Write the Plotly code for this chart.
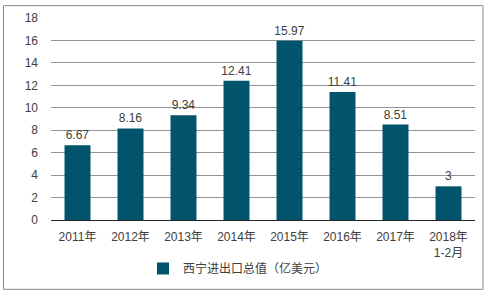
import plotly.graph_objects as go

categories = ["2011年", "2012年", "2013年", "2014年", "2015年", "2016年", "2017年", "2018年<br>1-2月"]
values = [6.67, 8.16, 9.34, 12.41, 15.97, 11.41, 8.51, 3]
labels = ["6.67", "8.16", "9.34", "12.41", "15.97", "11.41", "8.51", "3"]
series_name = "西宁进出口总值（亿美元）"

font_family = "Arial, Liberation Sans, Noto Sans CJK SC, sans-serif"

fig = go.Figure()
fig.add_trace(go.Bar(
    x=categories, y=values, name=series_name,
    marker=dict(color="#02536C", line=dict(width=0)),
    width=0.49,
    text=labels, textposition="outside", cliponaxis=False, constraintext="none",
    textfont=dict(size=12, color="#404040", family=font_family),
))

fig.update_layout(
    width=486, height=294,
    margin=dict(l=51, r=11, t=16, b=74),
    paper_bgcolor="white", plot_bgcolor="white",
    font=dict(family=font_family, size=12, color="#404040"),
    showlegend=True,
    legend=dict(orientation="h", x=(143 - 51) / 424, xanchor="left", y=-0.24, yanchor="middle",
                font=dict(size=12, color="#404040"), itemwidth=30),
    xaxis=dict(showgrid=False, ticks="", showline=True, linecolor="#262626", linewidth=1,
               tickfont=dict(size=12, color="#404040"), ticklabelstandoff=6),
    yaxis=dict(range=[0, 18], dtick=2, showgrid=True, gridcolor="#959595", gridwidth=1,
               zeroline=True, zerolinecolor="#262626", zerolinewidth=1,
               ticks="", tickfont=dict(size=12, color="#404040"), ticklabelstandoff=12),
    shapes=[dict(type="rect", xref="paper", yref="paper",
                 x0=(3.5 - 51) / 424, x1=(483 - 51) / 424,
                 y0=(220 - 290) / 204, y1=(220 - 3.5) / 204,
                 line=dict(color="#898989", width=1), fillcolor="rgba(0,0,0,0)")],
)

fig.write_html("out.html")
